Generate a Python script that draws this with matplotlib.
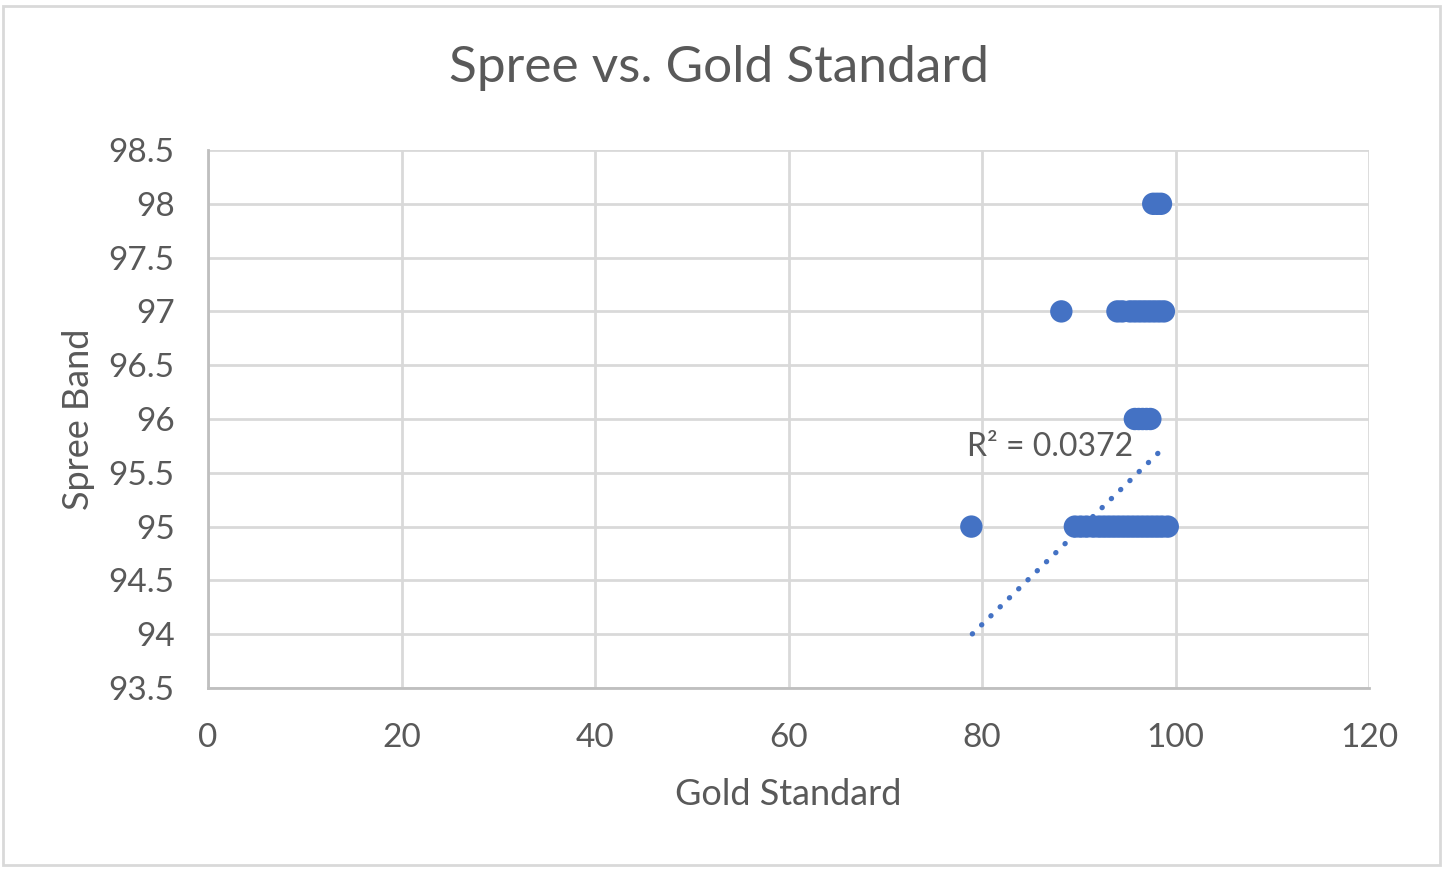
import matplotlib
matplotlib.use("Agg")
import matplotlib.pyplot as plt
import numpy as np

# data
gold_98 = [97.7, 98.1, 98.5]
gold_97 = [88.2, 94.0, 94.5, 95.3, 95.8, 96.3, 96.8, 97.3, 97.8, 98.3, 98.8]
gold_96 = [95.8, 96.2, 96.6, 97.0, 97.4]
gold_95 = [78.9, 89.6, 90.2, 90.8, 91.5, 92.1, 92.6, 93.1, 93.6, 94.1, 94.6,
           95.1, 95.6, 96.1, 96.6, 97.1, 97.6, 98.1, 98.6, 99.2]
spree_levels = [98, 97, 96, 95]

# trendline
trend_slope = 0.0875
trend_intercept = 87.09
trend_x = [79.0, 98.8]
r2_label = "R² = 0.0372"

xticks = [0, 20, 40, 60, 80, 100, 120]
yticks = [93.5, 94, 94.5, 95, 95.5, 96, 96.5, 97, 97.5, 98, 98.5]

blue = "#4472C4"
grey_text = "#595959"
grid_col = "#D9D9D9"

plt.rcParams['font.family'] = ['Lato', 'DejaVu Sans']

fig = plt.figure(figsize=(14.45, 8.71), dpi=100)
ax = fig.add_axes([208/1445, 1 - 688/871, (1369-208)/1445, (688-150)/871])

gx, gy = [], []
for xs, lvl in zip([gold_98, gold_97, gold_96, gold_95], spree_levels):
    gx += xs
    gy += [lvl] * len(xs)
ax.scatter(gx, gy, s=260, color=blue, edgecolors='none', zorder=3)

tx = np.array(trend_x)
ax.plot(tx, trend_slope * tx + trend_intercept, color=blue, lw=3.8,
        linestyle=(0, (0.05, 2.4)), dash_capstyle='round', zorder=2)
ax.text(78.4, 95.74, r2_label, fontsize=23, color=grey_text, va='center', ha='left')

ax.set_xlim(0, 120)
ax.set_ylim(93.5, 98.5)
ax.set_xticks(xticks)
ax.set_yticks(yticks)
ax.set_xticklabels([str(v) for v in xticks])
ax.set_yticklabels([('%g' % v) for v in yticks])
ax.grid(True, color=grid_col, lw=2)
ax.set_axisbelow(True)
for s in ['top', 'right']:
    ax.spines[s].set_visible(False)
for s in ['left', 'bottom']:
    ax.spines[s].set_color('#BFBFBF')
    ax.spines[s].set_linewidth(2)
ax.tick_params(length=0, labelsize=24, colors=grey_text)
ax.tick_params(axis='y', pad=24)
ax.tick_params(axis='x', pad=25)

ax.set_xlabel("Gold Standard", fontsize=26, color=grey_text, labelpad=18)
ax.set_ylabel("Spree Band", fontsize=26, color=grey_text, labelpad=10)
fig.text(719/1445, 1 - 68/871, "Spree vs. Gold Standard", fontsize=37,
         color=grey_text, ha='center', va='center')

# chart area border
fig.patches.append(plt.Rectangle((3/1445, 6/871), 1437/1445, 859/871,
                                 transform=fig.transFigure, fill=False,
                                 edgecolor=grid_col, lw=2))

fig.savefig("out.png", dpi=100)
